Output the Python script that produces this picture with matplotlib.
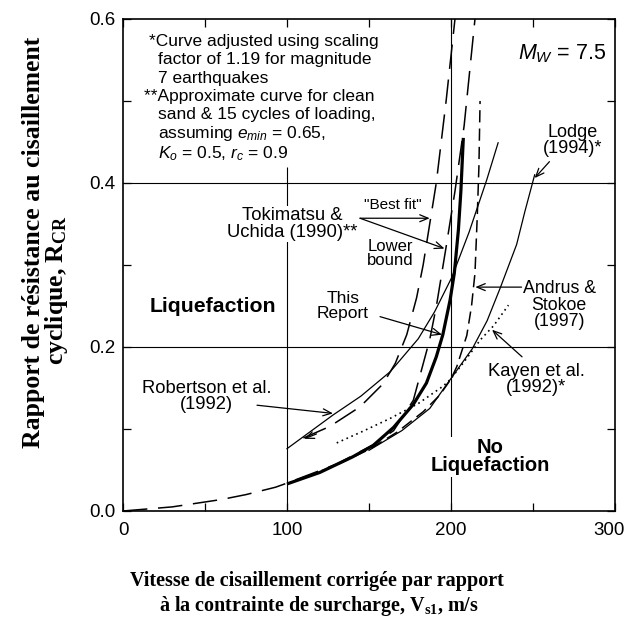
"""Liquefaction resistance vs. corrected shear wave velocity."""

import matplotlib
matplotlib.use('Agg')
import matplotlib.pyplot as plt
from matplotlib.transforms import ScaledTranslation

plt.rcParams['font.family'] = ['Liberation Sans', 'DejaVu Sans']
plt.rcParams['mathtext.fontset'] = 'custom'
plt.rcParams['mathtext.rm'] = 'Liberation Sans'
plt.rcParams['mathtext.it'] = 'Liberation Sans:italic'
plt.rcParams['mathtext.bf'] = 'Liberation Serif:bold'

# curves (Vs1 in m/s, cyclic resistance ratio)
vs_report = [100, 120, 140, 152.6, 165, 177, 185, 191, 195, 199.4, 202, 204.5, 206, 207.5]
cr_report = [0.033, 0.047, 0.066, 0.08, 0.102, 0.13, 0.156, 0.188, 0.215, 0.257, 0.29, 0.343, 0.39, 0.455]

vs_as97 = [100, 130, 150, 167, 183, 193, 200, 203.5, 209.6, 212.5, 214.6, 216, 217, 217.7]
cr_as97 = [0.033, 0.056, 0.075, 0.096, 0.121, 0.141, 0.161, 0.176, 0.214, 0.25, 0.29, 0.36, 0.42, 0.50]

vs_best = [110, 126, 144.5, 158.5, 166, 173, 179, 183, 187, 191, 197, 202.4]
cr_best = [0.089, 0.103, 0.127, 0.155, 0.18, 0.215, 0.26, 0.30, 0.35, 0.40, 0.50, 0.60]

vs_lower = [0, 30, 60, 75, 93, 100, 130, 152, 165, 177, 187, 191, 197, 202.4, 208, 214.6]
cr_lower = [0.0, 0.005, 0.014, 0.02, 0.029, 0.034, 0.057, 0.08, 0.098, 0.135, 0.209, 0.249, 0.322, 0.39, 0.47, 0.60]

vs_rob = [100, 128, 145, 163, 180, 190, 200.5, 211, 221.8, 228.7]
cr_rob = [0.076, 0.117, 0.140, 0.170, 0.21, 0.243, 0.285, 0.34, 0.404, 0.449]

vs_lodge = [150, 170, 187, 199.4, 213, 222, 230, 240, 245, 251]
cr_lodge = [0.074, 0.098, 0.125, 0.16, 0.198, 0.232, 0.272, 0.325, 0.365, 0.41]

vs_kayen = [130.3, 146, 163, 180, 195, 199.4, 208, 218, 226, 235]
cr_kayen = [0.083, 0.097, 0.113, 0.131, 0.152, 0.16, 0.182, 0.209, 0.226, 0.251]

notes = ['*Curve adjusted using scaling', 'factor of 1.19 for magnitude',
         '7 earthquakes', '**Approximate curve for clean',
         'sand & 15 cycles of loading,', r'assuming $e_{min}$ = 0.65,',
         r'$K_o$ = 0.5, $r_c$ = 0.9']
notes_x = [16.0, 21.3, 21.3, 12.8, 21.3, 21.3, 21.3]
notes_y = [0.572, 0.550, 0.528, 0.505, 0.483, 0.460, 0.436]

fig = plt.figure(figsize=(6.26, 6.24), dpi=100)
ax = fig.add_axes([0.1965, 0.1811, 0.786, 0.7885])

# grid lines
ax.vlines(100, 0, 0.42, color='k', lw=0.8, zorder=1)
ax.axvline(200, color='k', lw=0.8, zorder=1)
ax.axhline(0.2, color='k', lw=0.8, zorder=1)
ax.axhline(0.4, color='k', lw=0.8, zorder=1)

ax.plot(vs_lower, cr_lower, color='k', lw=1.1, dashes=(16, 7), zorder=3)
ax.plot(vs_best, cr_best, color='k', lw=1.1, dashes=(16, 7), zorder=3)
ax.plot(vs_as97, cr_as97, color='k', lw=1.1, dashes=(8, 4), zorder=3)
ax.plot(vs_rob, cr_rob, color='k', lw=0.9, zorder=3)
ax.plot(vs_lodge, cr_lodge, color='k', lw=0.9, zorder=3)
ax.plot(vs_kayen, cr_kayen, color='k', lw=1.2, dashes=(1, 2.2), zorder=3)
ax.plot(vs_report, cr_report, color='k', lw=2.3, solid_capstyle='butt', zorder=4)

ax.set_xlim(0, 300)
ax.set_ylim(0, 0.6)
ax.set_xticks([0, 100, 200, 300])
ax.set_yticks([0.0, 0.2, 0.4, 0.6])
ax.set_yticklabels(['0.0', '0.2', '0.4', '0.6'])
ax.set_xticks([50, 150, 250], minor=True)
ax.set_yticks([0.1, 0.3, 0.5], minor=True)
ax.tick_params(which='both', direction='in', top=True, right=True,
               length=6, width=0.9, labelsize=13.5)
ax.tick_params(axis='y', pad=5.5)
ax.tick_params(axis='x', pad=8)
for s in ax.spines.values():
    s.set_linewidth(1.2)
last = ax.get_xticklabels()[-1]
last.set_transform(last.get_transform() + ScaledTranslation(-6 / 100, 0, fig.dpi_scale_trans))

# notes
for t, x, y in zip(notes, notes_x, notes_y):
    ax.text(x, y, t, fontsize=12.5, ha='left', va='center')
ax.text(267.7, 0.558, r'$M_W$ = 7.5', fontsize=15.5, ha='center', va='center')

arrow = dict(arrowstyle='->,head_length=0.6,head_width=0.25', color='k',
             lw=0.9, shrinkA=0, shrinkB=0)
ax.text(274.4, 0.452, 'Lodge\n(1994)*', fontsize=13, ha='center', va='center',
        linespacing=0.95)
ax.annotate('', xy=(251, 0.406), xytext=(260, 0.426), arrowprops=arrow)

ax.text(103, 0.35, 'Tokimatsu &\nUchida (1990)**', fontsize=13.3, ha='center',
        va='center', linespacing=0.95,
        bbox=dict(facecolor='w', edgecolor='none', pad=1), zorder=5)
ax.text(164.6, 0.373, '"Best fit"', fontsize=11, ha='center', va='center')
ax.annotate('', xy=(187, 0.357), xytext=(144.5, 0.357), arrowprops=arrow)
ax.text(149, 0.314, 'Lower\nbound', fontsize=12, ha='left', va='center',
        linespacing=0.95)
ax.annotate('', xy=(196, 0.32), xytext=(144.5, 0.357), arrowprops=arrow)

ax.text(134, 0.25, 'This\nReport', fontsize=12.5, ha='center', va='center',
        linespacing=0.95)
ax.annotate('', xy=(194.5, 0.215), xytext=(156.7, 0.237), arrowprops=arrow)

ax.text(55, 0.249, 'Liquefaction', fontsize=15.3, fontweight='bold',
        ha='center', va='center')
ax.text(51, 0.14, 'Robertson et al.\n(1992)', fontsize=13.2, ha='center',
        va='center', linespacing=0.95)
ax.annotate('', xy=(128, 0.119), xytext=(81.7, 0.129), arrowprops=arrow)
ax.annotate('', xy=(110.5, 0.088), xytext=(118, 0.094), arrowprops=arrow)

ax.text(266, 0.251, 'Andrus &\nStokoe\n(1997)', fontsize=12.8, ha='center',
        va='center', linespacing=0.95)
ax.annotate('', xy=(214.8, 0.273), xytext=(243, 0.273), arrowprops=arrow)

ax.text(252, 0.16, 'Kayen et al.\n(1992)*', fontsize=13.2, ha='center',
        va='center', linespacing=0.95)
ax.annotate('', xy=(225, 0.221), xytext=(243.3, 0.188), arrowprops=arrow)

ax.text(224, 0.066, 'No\nLiquefaction', fontsize=14.5, fontweight='bold',
        ha='center', va='center', linespacing=0.95,
        bbox=dict(facecolor='w', edgecolor='none', pad=1), zorder=5)

# axis labels
lab = dict(family='Liberation Serif', fontweight='bold')
fig.text(0.506, 0.069, 'Vitesse de cisaillement corrigée par rapport',
         fontsize=14.5, ha='center', va='center', **lab)
fig.text(0.509, 0.029, r'à la contrainte de surcharge, $\mathbf{V_{s1}}$, m/s',
         fontsize=14.5, ha='center', va='center', **lab)
fig.text(0.053, 0.611, 'Rapport de résistance au cisaillement',
         fontsize=18.5, rotation=90, ha='center', va='center', **lab)
fig.text(0.091, 0.535, r'cyclique, $\mathbf{R_{CR}}$',
         fontsize=18.5, rotation=90, ha='center', va='center', **lab)

fig.savefig('out.png', dpi=100)
